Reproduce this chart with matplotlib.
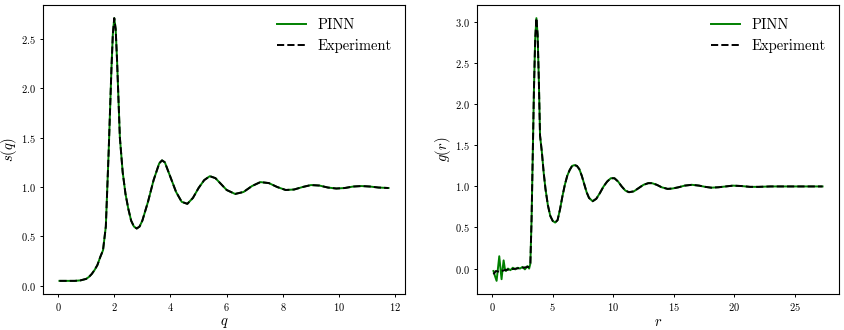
import matplotlib
matplotlib.use("Agg")
import matplotlib.pyplot as plt

plt.rcParams['font.family'] = 'serif'
plt.rcParams['font.serif'] = ['cmr10']
plt.rcParams['mathtext.fontset'] = 'cm'
plt.rcParams['axes.formatter.use_mathtext'] = True
plt.rcParams['axes.unicode_minus'] = False

# structure factor s(q)
q_vals = [0.05, 0.3, 0.6, 0.8, 1.0, 1.1, 1.2, 1.3, 1.4, 1.5, 1.6, 1.7, 1.8, 1.9, 1.95,
          2.0, 2.05, 2.1, 2.2, 2.3, 2.4, 2.5, 2.6, 2.7, 2.8, 2.9, 3.0, 3.2, 3.4, 3.6,
          3.7, 3.8, 4.0, 4.2, 4.4, 4.6, 4.8, 5.0, 5.2, 5.4, 5.6, 5.8, 6.0, 6.3, 6.6,
          6.9, 7.2, 7.5, 7.8, 8.1, 8.4, 8.7, 9.0, 9.3, 9.6, 9.9, 10.2, 10.5, 10.8,
          11.1, 11.4, 11.76]
sq_exp = [0.05, 0.05, 0.05, 0.055, 0.07, 0.09, 0.12, 0.16, 0.21, 0.29, 0.36, 0.6, 1.35,
          2.2, 2.55, 2.71, 2.6, 2.28, 1.5, 1.15, 0.93, 0.78, 0.66, 0.6, 0.58, 0.6,
          0.66, 0.85, 1.07, 1.24, 1.27, 1.25, 1.1, 0.95, 0.85, 0.83, 0.89, 0.99, 1.07,
          1.11, 1.09, 1.03, 0.97, 0.93, 0.95, 1.01, 1.05, 1.04, 1.0, 0.97, 0.975, 1.0,
          1.02, 1.015, 0.995, 0.985, 0.99, 1.005, 1.01, 1.005, 0.995, 0.99]
sq_pinn = list(sq_exp)  # PINN sits right on the experiment

# pair distribution g(r)
r_vals = [0.1, 0.3, 0.6, 1.0, 1.5, 2.0, 2.5, 3.0, 3.15, 3.25, 3.35, 3.45, 3.55, 3.65,
          3.75, 3.85, 3.95, 4.1, 4.25, 4.4, 4.6, 4.8, 5.0, 5.2, 5.4, 5.6, 5.8, 6.0,
          6.2, 6.4, 6.6, 6.8, 7.0, 7.2, 7.4, 7.6, 7.8, 8.0, 8.3, 8.6, 8.9, 9.2, 9.5,
          9.8, 10.1, 10.4, 10.7, 11.0, 11.3, 11.7, 12.1, 12.5, 12.9, 13.2, 13.6, 14.0,
          14.5, 14.9, 15.4, 15.9, 16.5, 17.1, 17.6, 18.1, 18.7, 19.3, 19.9, 20.6,
          21.3, 22.0, 23.0, 24.0, 25.0, 26.0, 27.3]
gr_exp = [-0.07, -0.03, -0.04, -0.02, -0.01, 0.0, 0.01, 0.02, 0.06, 0.6, 1.4, 2.2,
          2.8, 3.05, 2.85, 2.3, 1.62, 1.42, 1.17, 0.97, 0.77, 0.64, 0.58, 0.56, 0.59,
          0.72, 0.88, 1.02, 1.13, 1.2, 1.25, 1.26, 1.25, 1.21, 1.13, 1.03, 0.93,
          0.86, 0.82, 0.85, 0.92, 1.0, 1.06, 1.1, 1.1, 1.06, 1.0, 0.95, 0.93, 0.94,
          0.98, 1.02, 1.04, 1.04, 1.02, 0.99, 0.97, 0.975, 0.99, 1.01, 1.02, 1.01,
          0.995, 0.985, 0.99, 1.0, 1.01, 1.005, 0.995, 0.995, 1.0, 1.0, 1.0, 1.0, 1.0]

# PINN wiggles at small r, then follows the experiment
r_pinn_low = [0.1, 0.2, 0.36, 0.47, 0.58, 0.68, 0.77, 0.86, 0.94, 1.04, 1.13, 1.3,
              1.5, 1.7, 1.9, 2.1, 2.3, 2.5, 2.7, 2.9, 3.05]
gr_pinn_low = [-0.03, -0.08, -0.15, 0.0, 0.15, 0.0, -0.13, 0.0, 0.10, 0.0, -0.03,
               0.0, -0.02, 0.01, -0.01, 0.01, 0.0, 0.02, -0.01, 0.03, 0.0]
r_pinn = r_pinn_low + r_vals[8:]
gr_pinn = gr_pinn_low + gr_exp[8:]

fig = plt.figure(figsize=(8.44, 3.3), dpi=100)
ax1 = fig.add_axes([43 / 844, 36 / 330, 362 / 844, 289 / 330])
ax2 = fig.add_axes([477 / 844, 36 / 330, 362 / 844, 289 / 330])

ax1.plot(q_vals, sq_pinn, color='green', lw=1.4, label='PINN')
ax1.plot(q_vals, sq_exp, 'k--', lw=1.4, label='Experiment')
ax1.set_xlabel('$q$', fontsize=10.5, labelpad=2)
ax1.set_ylabel('$s(q)$', fontsize=10.5, labelpad=1.5)

ax2.plot(r_pinn, gr_pinn, color='green', lw=1.4, label='PINN')
ax2.plot(r_vals, gr_exp, 'k--', lw=1.4, label='Experiment')
ax2.set_xlabel('$r$', fontsize=10.5, labelpad=2)
ax2.set_ylabel('$g(r)$', fontsize=10.5, labelpad=1.5)

for ax in (ax1, ax2):
    ax.tick_params(labelsize=7.5, length=2.5, width=0.7, pad=2.5)
    for sp in ax.spines.values():
        sp.set_linewidth(0.8)
    ax.legend(frameon=False, loc='upper right', fontsize=10.5)

fig.savefig('out.png', dpi=100)
